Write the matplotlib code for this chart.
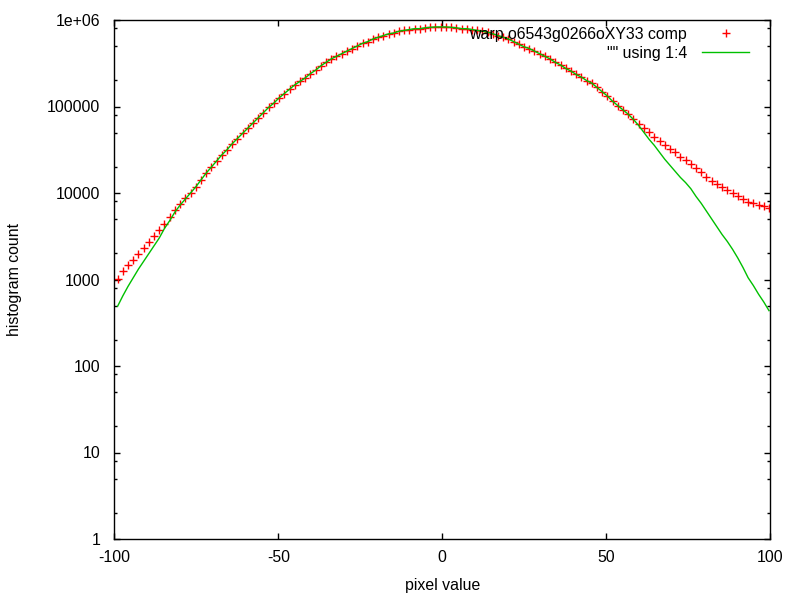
import matplotlib
matplotlib.use("Agg")
import matplotlib.pyplot as plt
from matplotlib.ticker import LogLocator, FixedLocator, NullFormatter
import numpy as np

plt.rcParams["font.family"] = ["Liberation Sans", "DejaVu Sans"]

# pixel value bins (126 bins, centres from -99 to 99.6)
pixel_value = np.linspace(-99, 99.6, 126)

# log10 of histogram counts
comp_log = [
    3.01, 3.10, 3.17, 3.22, 3.30, 3.36, 3.43, 3.50, 3.57, 3.64,
    3.72, 3.80, 3.87, 3.94, 4.00, 4.07, 4.15, 4.23, 4.30, 4.37,
    4.44, 4.50, 4.57, 4.63, 4.69, 4.75, 4.81, 4.87, 4.93, 4.99,
    5.04, 5.10, 5.15, 5.20, 5.25, 5.29, 5.33, 5.38, 5.42, 5.47,
    5.51, 5.55, 5.58, 5.61, 5.64, 5.67, 5.70, 5.73, 5.75, 5.78,
    5.80, 5.82, 5.84, 5.85, 5.87, 5.88, 5.89, 5.90, 5.90, 5.91,
    5.915, 5.92, 5.92, 5.92, 5.915, 5.91, 5.90, 5.90, 5.89, 5.88,
    5.87, 5.86, 5.84, 5.82, 5.80, 5.78, 5.75, 5.72, 5.69, 5.67,
    5.64, 5.61, 5.58, 5.55, 5.51, 5.48, 5.44, 5.41, 5.37, 5.34,
    5.30, 5.27, 5.22, 5.17, 5.12, 5.06, 5.01, 4.96, 4.91, 4.85,
    4.80, 4.75, 4.70, 4.65, 4.60, 4.56, 4.51, 4.47, 4.42, 4.38,
    4.33, 4.29, 4.24, 4.19, 4.14, 4.10, 4.07, 4.04, 4.00, 3.97,
    3.93, 3.90, 3.88, 3.86, 3.85, 3.83,
]

col4_log = [
    2.69, 2.81, 2.92, 3.02, 3.12, 3.21, 3.30, 3.39, 3.48, 3.59,
    3.68, 3.78, 3.86, 3.93, 4.00, 4.07, 4.15, 4.23, 4.30, 4.37,
    4.44, 4.50, 4.57, 4.63, 4.69, 4.75, 4.81, 4.87, 4.93, 4.99,
    5.04, 5.10, 5.15, 5.20, 5.25, 5.29, 5.33, 5.38, 5.42, 5.47,
    5.51, 5.55, 5.58, 5.61, 5.64, 5.67, 5.70, 5.73, 5.75, 5.78,
    5.80, 5.82, 5.84, 5.85, 5.87, 5.88, 5.89, 5.90, 5.90, 5.91,
    5.915, 5.92, 5.92, 5.92, 5.915, 5.91, 5.90, 5.90, 5.89, 5.88,
    5.87, 5.86, 5.84, 5.82, 5.80, 5.78, 5.75, 5.72, 5.69, 5.67,
    5.64, 5.61, 5.58, 5.55, 5.51, 5.48, 5.44, 5.41, 5.37, 5.34,
    5.30, 5.27, 5.22, 5.17, 5.12, 5.06, 5.01, 4.96, 4.91, 4.85,
    4.78, 4.70, 4.62, 4.55, 4.47, 4.39, 4.32, 4.25, 4.18, 4.12,
    4.05, 3.96, 3.88, 3.79, 3.70, 3.61, 3.52, 3.44, 3.35, 3.25,
    3.14, 3.02, 2.93, 2.83, 2.74, 2.64,
]

y_ticks = [1, 10, 100, 1000, 10000, 100000, 1000000]
y_tick_labels = ["1", "10", "100", "1000", "10000", "100000", "1e+06"]
x_ticks = [-100, -50, 0, 50, 100]

comp_counts = 10 ** np.array(comp_log)
col4_counts = 10 ** np.array(col4_log)

FS = 11.4

fig = plt.figure(figsize=(8, 6), dpi=100)
ax = fig.add_axes([114.3 / 800, 1 - 539 / 600, 656 / 800, 519 / 600])

ax.plot(pixel_value, comp_counts, "+", color="#ff0000", markersize=6,
        markeredgewidth=1, label="warp.o6543g0266oXY33 comp")
ax.plot(pixel_value, col4_counts, "-", color="#00c000", linewidth=1,
        label='"" using 1:4')

ax.set_yscale("log")
ax.set_xlim(-100, 100)
ax.set_ylim(1, 1e6)

ax.yaxis.set_major_locator(FixedLocator(y_ticks))
ax.set_yticklabels(y_tick_labels)
# gnuplot only marks 2, 5 and 8 inside each decade here
ax.yaxis.set_minor_locator(LogLocator(base=10, subs=[2, 5, 8]))
ax.yaxis.set_minor_formatter(NullFormatter())
ax.set_xticks(x_ticks)
ax.set_xticklabels([str(v) for v in x_ticks])

ax.tick_params(axis="both", which="both", direction="in", top=True,
               right=True, labelsize=FS)
ax.tick_params(axis="y", which="major", pad=10)
ax.tick_params(axis="x", which="major", pad=8)
ax.tick_params(axis="both", which="major", length=4.5, width=1)
ax.tick_params(axis="both", which="minor", length=2.3, width=1)

for s in ax.spines.values():
    s.set_linewidth(1)

ax.set_xlabel("pixel value", fontsize=FS, labelpad=9)
ax.set_ylabel("histogram count", fontsize=FS)
ax.yaxis.set_label_coords(-0.141, 0.5)

ax.legend(loc="upper right", bbox_to_anchor=(749 / 800, 1 - 27 / 600),
          bbox_transform=fig.transFigure, frameon=False,
          markerfirst=False, fontsize=FS, handlelength=2.95,
          handletextpad=0.95, borderaxespad=0, borderpad=0,
          labelspacing=0.25)

fig.savefig("out.png", dpi=100)
